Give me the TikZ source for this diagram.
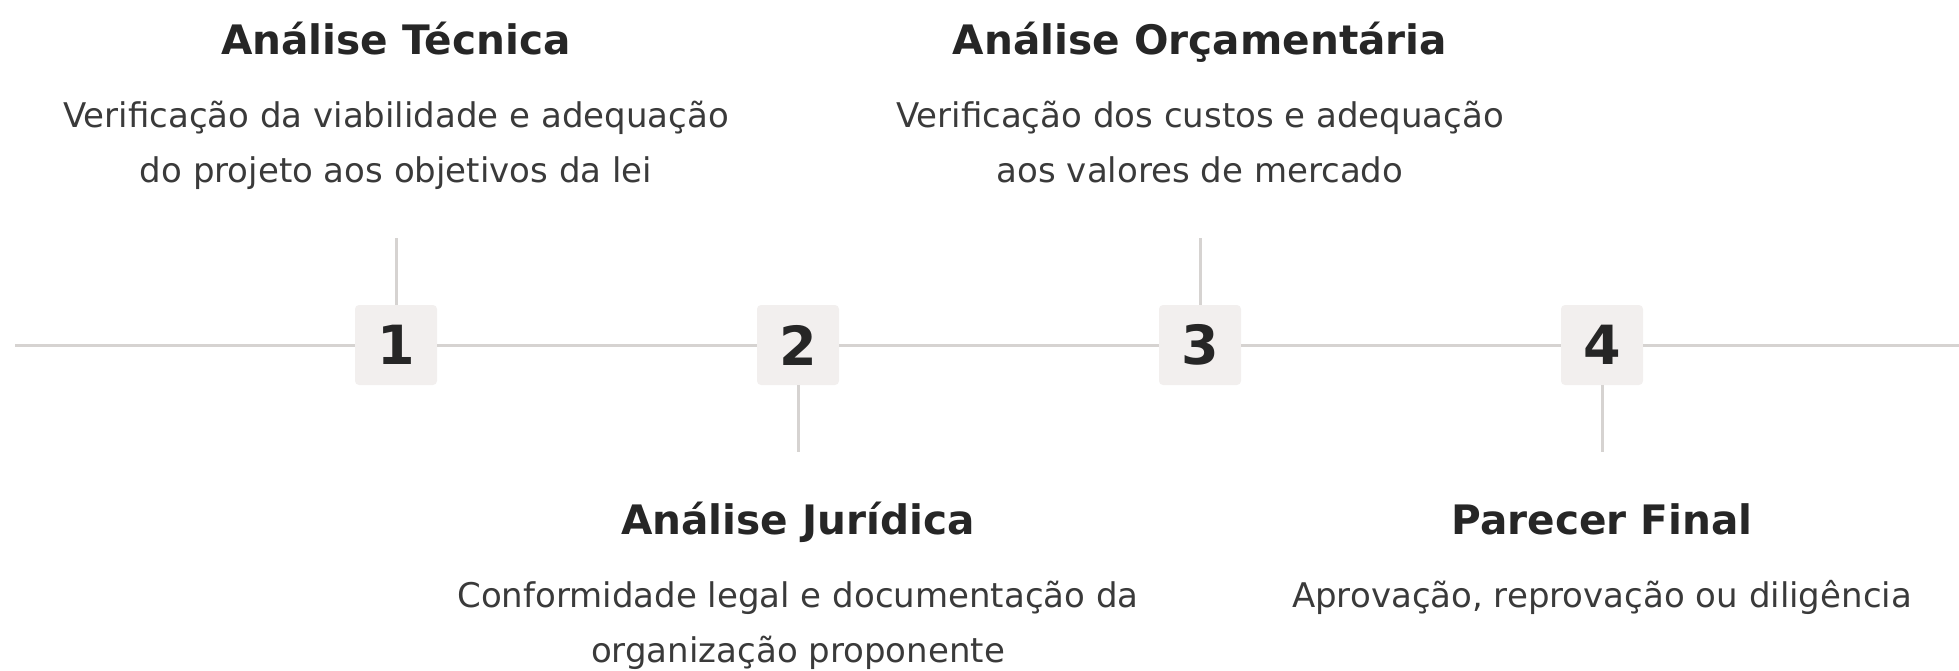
\documentclass[tikz,border=0pt]{standalone}
\usepackage{fontspec}
\setmainfont{DejaVu Sans}
\usepackage{tikz}

\definecolor{lineGray}{HTML}{D6D3D1}
\definecolor{boxFill}{HTML}{F2EFEE}
\definecolor{inkDark}{HTML}{262626}
\definecolor{inkSoft}{HTML}{3A3A3A}

\tikzset{
  stepnum/.style={rectangle, rounded corners=2pt, fill=boxFill, minimum width=41pt, minimum height=40pt, inner sep=0pt, text=inkDark, font=\fontsize{27}{30}\selectfont\bfseries},
  timeline/.style={draw=lineGray, line width=1.5pt},
  tick/.style={draw=lineGray, line width=1.5pt},
  steptitle/.style={anchor=base, text=inkDark, font=\fontsize{20.3}{26}\selectfont\bfseries, inner sep=0pt},
  stepdesc/.style={anchor=base, align=center, text=inkSoft, font=\fontsize{17}{27.5}\selectfont, inner sep=0pt}
}

\begin{document}
\begin{tikzpicture}[x=0.5pt, y=-0.5pt]
\useasboundingbox (0,0) rectangle (1959,670);

% Numbered steps on the timeline
\foreach \i/\x in {1/396, 2/798, 3/1200, 4/1602} {
    \node[stepnum] (n\i) at (\x, 345) {\i};
}

% Timeline
\coordinate (tlstart) at (15, 345);
\coordinate (tlend) at (1959, 345);
\draw[timeline] (tlstart) -- (n1) -- (n2) -- (n3) -- (n4) -- (tlend);

% Ticks towards the labels
\coordinate (t1) at (396, 238);
\coordinate (t2) at (798, 452);
\coordinate (t3) at (1200, 238);
\coordinate (t4) at (1602, 452);
\draw[tick] (n1.north) -- (t1);
\draw[tick] (n2.south) -- (t2);
\draw[tick] (n3.north) -- (t3);
\draw[tick] (n4.south) -- (t4);

% Upper labels (base = last line)
\node[steptitle] (title1) at (396, 54) {Análise Técnica};
\node[stepdesc] (desc1) at (396, 182) {Verificação da viabilidade e adequação\\do projeto aos objetivos da lei};
\node[steptitle] (title3) at (1200, 54) {Análise Orçamentária};
\node[stepdesc] (desc3) at (1200, 182) {Verificação dos custos e adequação\\aos valores de mercado};

% Lower labels
\node[steptitle] (title2) at (798, 534) {Análise Jurídica};
\node[stepdesc] (desc2) at (798, 662) {Conformidade legal e documentação da\\organização proponente};
\node[steptitle] (title4) at (1602, 534) {Parecer Final};
\node[stepdesc] (desc4) at (1602, 607) {Aprovação, reprovação ou diligência};
\end{tikzpicture}
\end{document}
